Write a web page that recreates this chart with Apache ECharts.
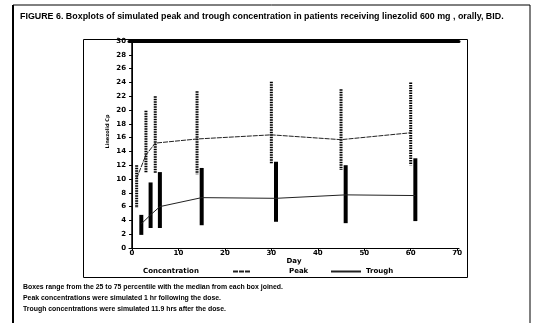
<!DOCTYPE html>
<html>
<head>
<meta charset="utf-8">
<script src="https://cdn.jsdelivr.net/npm/echarts@6/dist/echarts.min.js"></script>
<style>
  html, body { margin: 0; padding: 0; background: #fff; }
  #chart { width: 534px; height: 323px; }
</style>
</head>
<body>
<div id="chart"></div>
<script>
// boxes span the 25th..75th percentile, medians joined by a line
const peakDays = [1, 3, 5, 14, 30, 45, 60];
const peakQ1 = [5.8, 10.9, 10.9, 10.7, 12.3, 11.3, 12.0];
const peakQ3 = [12.0, 19.9, 22.0, 22.7, 24.1, 23.0, 24.0];
const peakMedian = [10.1, 13.5, 15.2, 15.8, 16.4, 15.7, 16.7];

const troughDays = [2, 4, 6, 15, 31, 46, 61];
const troughQ1 = [1.9, 2.9, 2.9, 3.3, 3.8, 3.6, 3.9];
const troughQ3 = [4.8, 9.5, 11.0, 11.6, 12.5, 12.0, 13.0];
const troughMedian = [3.5, 4.8, 6.0, 7.3, 7.2, 7.7, 7.6];

const dayTicks = [0, 10, 20, 30, 40, 50, 60, 70];

const title = "FIGURE 6. Boxplots of simulated peak and trough concentration in patients receiving linezolid 600 mg , orally, BID.";
const notes = [
  "Boxes range from the 25 to 75 percentile with the median from each box joined.",
  "Peak concentrations were simulated 1 hr following the dose.",
  "Trough concentrations were simulated 11.9 hrs after the dose."
];

const labelFont = { color: "#000", fontFamily: "DejaVu Sans", fontWeight: "bold", fontSize: 7 };

function boxRenderer(width, dotted) {
  return function (params, api) {
    const top = api.coord([api.value(0), api.value(2)]);
    const bottom = api.coord([api.value(0), api.value(1)]);
    if (dotted) {
      // dotted column for the peak boxes
      return {
        type: "line",
        shape: { x1: top[0], y1: top[1], x2: bottom[0], y2: bottom[1] },
        style: { stroke: "#000", lineWidth: width, lineDash: [1.5, 1] }
      };
    }
    return {
      type: "rect",
      shape: { x: top[0] - width / 2, y: top[1], width: width, height: bottom[1] - top[1] },
      style: { fill: "#000" }
    };
  };
}

const chart = echarts.init(document.getElementById("chart"), null, { renderer: "canvas" });

chart.setOption({
  animation: false,
  backgroundColor: "#fff",
  grid: { left: 129, top: 41, width: 330, height: 207 },
  legend: [
    {
      data: ["Peak"],
      left: 232,
      top: 268,
      itemWidth: 18,
      itemHeight: 6,
      padding: 0,
      itemStyle: { opacity: 0 },
      textStyle: Object.assign({}, labelFont, { padding: [0, 0, 0, 33] })
    },
    {
      data: ["Trough"],
      left: 330,
      top: 268,
      itemWidth: 30,
      itemHeight: 6,
      padding: 0,
      itemStyle: { opacity: 0 },
      textStyle: Object.assign({}, labelFont)
    }
  ],
  xAxis: [
    {
      type: "value",
      min: -0.65,
      max: 70.4,
      name: "Day",
      nameLocation: "middle",
      nameGap: 10,
      nameMoveOverlap: false,
      nameTextStyle: labelFont,
      axisLine: { onZero: false, lineStyle: { color: "#000", width: 1 } },
      axisTick: { customValues: dayTicks, length: 3, lineStyle: { color: "#000" } },
      axisLabel: Object.assign({ customValues: dayTicks, margin: 2 }, labelFont),
      splitLine: { show: false }
    },
    {
      type: "value",
      position: "top",
      min: -0.65,
      max: 70.4,
      axisLine: { onZero: false, lineStyle: { color: "#000", width: 3 } },
      axisTick: { show: false },
      axisLabel: { show: false },
      splitLine: { show: false }
    }
  ],
  yAxis: [
    {
      type: "value",
      min: 0,
      max: 30,
      interval: 2,
      name: "Linezolid Cp",
      nameLocation: "middle",
      nameGap: 19,
      nameMoveOverlap: false,
      nameTextStyle: { color: "#000", fontFamily: "DejaVu Sans", fontWeight: "bold", fontSize: 5, padding: [0, 0, 0, 26] },
      axisLine: { lineStyle: { color: "#000", width: 1 } },
      axisTick: { length: 3, lineStyle: { color: "#000" } },
      axisLabel: Object.assign({ margin: 3 }, labelFont),
      splitLine: { show: false }
    },
    {
      type: "value",
      position: "right",
      min: 0,
      max: 30,
      axisLine: { show: true, lineStyle: { color: "#000", width: 1.5 } },
      axisTick: { show: false },
      axisLabel: { show: false },
      splitLine: { show: false }
    }
  ],
  series: [
    {
      name: "Peak",
      type: "line",
      data: peakDays.map((d, i) => [d, peakMedian[i]]),
      symbol: "none",
      itemStyle: { color: "#222" },
      lineStyle: { color: "#222", width: 1, type: [5, 1] }
    },
    {
      name: "Trough",
      type: "line",
      data: troughDays.map((d, i) => [d, troughMedian[i]]),
      symbol: "none",
      itemStyle: { color: "#222" },
      lineStyle: { color: "#222", width: 1 }
    },
    {
      name: "Peak box",
      type: "custom",
      renderItem: boxRenderer(3, true),
      data: peakDays.map((d, i) => [d, peakQ1[i], peakQ3[i]]),
      z: 3
    },
    {
      name: "Trough box",
      type: "custom",
      renderItem: boxRenderer(4, false),
      data: troughDays.map((d, i) => [d, troughQ1[i], troughQ3[i]]),
      z: 3
    }
  ],
  graphic: [
    // figure frame
    { type: "line", shape: { x1: 13, y1: 5, x2: 13, y2: 323 }, style: { stroke: "#000", lineWidth: 2 } },
    { type: "line", shape: { x1: 13, y1: 5, x2: 530, y2: 5 }, style: { stroke: "#000", lineWidth: 1 } },
    { type: "line", shape: { x1: 530, y1: 5, x2: 530, y2: 323 }, style: { stroke: "#000", lineWidth: 1 } },
    // chart box
    { type: "rect", shape: { x: 83.5, y: 39.5, width: 384, height: 238 }, style: { fill: "none", stroke: "#000", lineWidth: 1 }, z: -1 },
    {
      type: "text", left: 20, top: 12,
      style: { text: title, fill: "#000", font: 'bold 8.9px "Liberation Sans"' }
    },
    {
      type: "text", left: 143, top: 268,
      style: { text: "Concentration", fill: "#000", font: 'bold 7px "DejaVu Sans"' }
    },
    {
      type: "text", left: 23, top: 282,
      style: { text: notes.join("\n"), fill: "#000", font: 'bold 6.9px "Liberation Sans"', lineHeight: 11 }
    }
  ]
});
</script>
</body>
</html>
